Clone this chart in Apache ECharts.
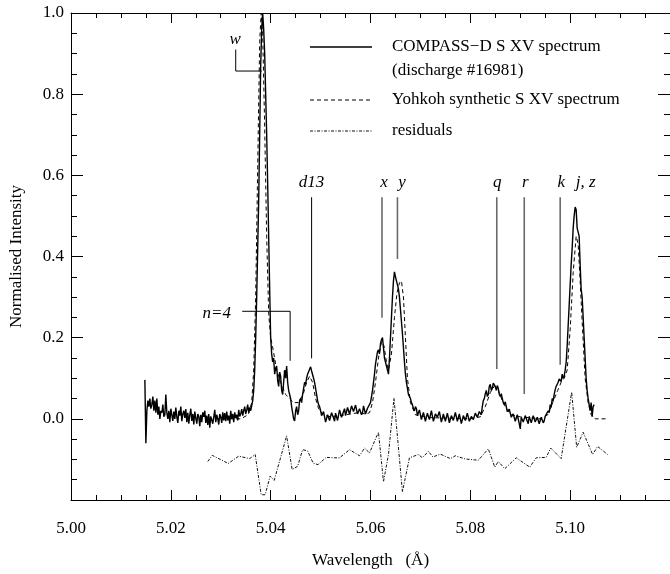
<!DOCTYPE html>
<html>
<head>
<meta charset="utf-8">
<script src="https://cdn.jsdelivr.net/npm/echarts@6/dist/echarts.min.js"></script>
<style>html,body{margin:0;padding:0;background:#fff}#chart{width:670px;height:574px}</style>
</head>
<body>
<div id="chart"></div>
<script>
// ---------- DATA ----------
// COMPASS-D measured spectrum: uniform wavelength sampling
const compassStart = 5.0148;
const compassStep = 0.0002;
const compassIntensity = [
  0.096, -0.060, 0.020, 0.045, 0.030, 0.050, 0.025, 0.035, 0.055, 0.020,
  0.045, 0.015, 0.050, 0.010, 0.030, 0.000, 0.020, 0.015, 0.035, 0.005,
  0.010, 0.060, 0.015, 0.000, 0.020, -0.008, 0.025, 0.010, -0.005, 0.018,
  0.000, 0.028, 0.005, -0.010, 0.020, 0.008, 0.030, -0.006, 0.012, 0.020,
  0.002, 0.024, -0.008, 0.015, -0.012, 0.010, 0.025, -0.005, 0.012, -0.014,
  0.018, 0.002, -0.012, 0.012, 0.006, -0.018, 0.010, -0.008, 0.016, 0.005,
  0.020, -0.010, 0.008, -0.015, 0.012, -0.022, 0.006, 0.010, -0.012, 0.004,
  0.022, -0.008, 0.010, 0.000, -0.014, 0.012, 0.004, -0.010, 0.016, -0.004,
  0.014, -0.006, 0.018, -0.004, 0.008, -0.012, 0.020, 0.000, 0.012, -0.008,
  0.016, 0.002, 0.010, -0.004, 0.022, 0.006, 0.012, 0.024, 0.008, 0.020,
  0.030, 0.012, 0.022, 0.035, 0.015, 0.028, 0.020, 0.032, 0.045, 0.070,
  0.120, 0.200, 0.300, 0.420, 0.540, 0.700, 0.870, 0.960, 1.000, 0.960,
  0.900, 0.800, 0.700, 0.580, 0.450, 0.320, 0.200, 0.160, 0.140, 0.150,
  0.110, 0.125, 0.130, 0.095, 0.080, 0.115, 0.105, 0.070, 0.060, 0.090,
  0.120, 0.100, 0.130, 0.090, 0.070, 0.060, 0.050, 0.030, 0.015, 0.000,
  -0.005, 0.020, 0.030, 0.010, 0.020, 0.045, 0.050, 0.040, 0.060, 0.075,
  0.090, 0.085, 0.100, 0.110, 0.110, 0.122, 0.128, 0.118, 0.115, 0.100,
  0.090, 0.075, 0.060, 0.045, 0.035, 0.030, 0.020, 0.008, 0.005, 0.018,
  0.020, -0.008, -0.010, 0.010, 0.012, -0.004, 0.000, 0.015, 0.018, 0.002,
  -0.006, 0.014, 0.010, -0.004, 0.000, 0.022, 0.020, 0.004, 0.005, 0.018,
  0.025, 0.008, 0.010, 0.028, 0.030, 0.012, 0.015, 0.032, 0.035, 0.018,
  0.020, 0.034, 0.030, 0.012, 0.010, 0.025, 0.028, 0.010, 0.015, 0.032,
  0.030, 0.012, 0.010, 0.026, 0.025, 0.030, 0.040, 0.055, 0.070, 0.090,
  0.110, 0.135, 0.150, 0.165, 0.170, 0.160, 0.185, 0.195, 0.200, 0.175,
  0.150, 0.140, 0.130, 0.120, 0.110, 0.150, 0.200, 0.250, 0.300, 0.340,
  0.362, 0.350, 0.340, 0.330, 0.320, 0.300, 0.270, 0.240, 0.210, 0.175,
  0.140, 0.110, 0.090, 0.075, 0.060, 0.055, 0.050, 0.040, 0.035, 0.025,
  0.020, 0.030, 0.025, 0.008, 0.005, 0.022, 0.020, -0.002, 0.000, 0.016,
  0.015, -0.006, -0.005, 0.014, 0.012, -0.002, 0.000, 0.020, 0.018, -0.006,
  -0.008, 0.012, 0.010, 0.004, 0.002, 0.018, 0.015, -0.008, -0.010, 0.012,
  0.008, -0.006, -0.004, 0.014, 0.012, -0.010, -0.012, 0.008, 0.006, -0.004,
  0.000, 0.016, 0.014, -0.006, -0.008, 0.012, 0.010, -0.012, -0.010, 0.008,
  0.006, -0.004, -0.002, 0.014, 0.012, -0.006, -0.008, 0.006, 0.004, -0.002,
  0.000, 0.014, 0.012, 0.004, 0.005, 0.018, 0.020, 0.010, 0.030, 0.045,
  0.050, 0.062, 0.070, 0.055, 0.060, 0.080, 0.085, 0.070, 0.075, 0.088,
  0.092, 0.080, 0.070, 0.082, 0.075, 0.060, 0.055, 0.062, 0.050, 0.040,
  0.035, 0.042, 0.030, 0.018, 0.015, 0.024, 0.020, 0.004, 0.000, 0.012,
  0.010, -0.006, -0.010, 0.010, 0.012, -0.012, -0.025, 0.004, 0.008, -0.008,
  -0.005, 0.008, 0.010, -0.006, -0.012, 0.006, 0.004, -0.010, -0.008, 0.008,
  0.006, -0.008, -0.010, 0.004, 0.002, -0.012, -0.015, 0.004, 0.000, -0.010,
  -0.005, 0.006, 0.010, 0.002, 0.020, 0.015, 0.035, 0.028, 0.050, 0.045,
  0.060, 0.072, 0.080, 0.076, 0.090, 0.098, 0.100, 0.092, 0.110, 0.100,
  0.105, 0.120, 0.140, 0.180, 0.230, 0.280, 0.330, 0.380, 0.420, 0.470,
  0.500, 0.522, 0.515, 0.470, 0.460, 0.450, 0.380, 0.320, 0.300, 0.250,
  0.200, 0.150, 0.100, 0.070, 0.050, 0.035, 0.020, 0.040, 0.005, 0.030,
  0.035
];

// Yohkoh synthetic spectrum
const synthWave = [
  5.0275, 5.0340, 5.0355, 5.0362, 5.0366, 5.0370, 5.0374, 5.0378, 5.0381, 5.0384,
  5.0388, 5.0392, 5.0396, 5.0400, 5.0405, 5.0412, 5.0420, 5.0430, 5.0438, 5.0445,
  5.0455, 5.0465, 5.0472, 5.0478, 5.0484, 5.0490, 5.0496, 5.0505, 5.0520, 5.0550,
  5.0575, 5.0590, 5.0598, 5.0604, 5.0610, 5.0616, 5.0622, 5.0627, 5.0632, 5.0636,
  5.0642, 5.0648, 5.0653, 5.0658, 5.0662, 5.0666, 5.0670, 5.0674, 5.0680, 5.0690,
  5.0720, 5.0800, 5.0820, 5.0830, 5.0840, 5.0848, 5.0856, 5.0864, 5.0872, 5.0882,
  5.0900, 5.0940, 5.0955, 5.0965, 5.0975, 5.0982, 5.0988, 5.0994, 5.1000, 5.1006,
  5.1012, 5.1016, 5.1020, 5.1024, 5.1030, 5.1036, 5.1042, 5.1050, 5.1075
];
const synthIntensity = [
  0.000, 0.000, 0.010, 0.040, 0.120, 0.300, 0.620, 0.930, 1.000, 0.950,
  0.720, 0.450, 0.260, 0.200, 0.170, 0.120, 0.090, 0.060, 0.050, 0.040,
  0.040, 0.060, 0.090, 0.105, 0.090, 0.050, 0.025, 0.010, 0.005, 0.010,
  0.015, 0.012, 0.015, 0.040, 0.090, 0.150, 0.190, 0.180, 0.140, 0.120,
  0.160, 0.250, 0.310, 0.335, 0.340, 0.300, 0.200, 0.100, 0.040, 0.010,
  0.003, 0.000, 0.005, 0.030, 0.065, 0.080, 0.070, 0.045, 0.025, 0.010,
  0.005, 0.000, 0.010, 0.040, 0.070, 0.090, 0.100, 0.120, 0.220, 0.360,
  0.450, 0.430, 0.340, 0.240, 0.100, 0.040, 0.010, 0.000, 0.000
];

// residuals (offset)
const residWave = [
  5.0274, 5.0283, 5.0315, 5.0336, 5.0358, 5.0369, 5.0381, 5.0389, 5.0399, 5.0407,
  5.0432, 5.0443, 5.0454, 5.0464, 5.0474, 5.0485, 5.0495, 5.0511, 5.0528, 5.0538,
  5.0558, 5.0578, 5.0588, 5.0598, 5.0616, 5.0626, 5.0636, 5.0647, 5.0664, 5.0678,
  5.0696, 5.0704, 5.0716, 5.0725, 5.0740, 5.0760, 5.0770, 5.0790, 5.0816, 5.0836,
  5.0849, 5.0856, 5.0869, 5.0892, 5.0919, 5.0932, 5.0952, 5.0961, 5.0982, 5.1003,
  5.1013, 5.1026, 5.1045, 5.1055, 5.1075
];
const residValue = [
  -0.105, -0.090, -0.110, -0.092, -0.098, -0.088, -0.187, -0.187, -0.141, -0.152,
  -0.042, -0.125, -0.117, -0.076, -0.079, -0.109, -0.113, -0.095, -0.096, -0.096,
  -0.076, -0.091, -0.072, -0.084, -0.033, -0.155, -0.088, 0.051, -0.180, -0.096,
  -0.088, -0.096, -0.080, -0.094, -0.087, -0.098, -0.091, -0.099, -0.102, -0.074,
  -0.119, -0.105, -0.123, -0.096, -0.119, -0.096, -0.095, -0.072, -0.098, 0.066,
  -0.070, -0.033, -0.088, -0.068, -0.088
];

// line identifications
const idNames = ['d13', 'x', 'y', 'q', 'r', 'k'];
const idWave = [5.0482, 5.0623, 5.0654, 5.0853, 5.0908, 5.0980];
const idTop = [0.546, 0.546, 0.546, 0.546, 0.546, 0.546];
const idBottom = [0.149, 0.249, 0.394, 0.123, 0.061, 0.133];
const labelNames = ['w', 'n=4', 'd13', 'x', 'y', 'q', 'r', 'k', 'j, z'];
const labelWave = [5.0329, 5.0292, 5.0482, 5.0627, 5.0663, 5.0854, 5.0910, 5.0982, 5.1031];
const labelLevel = [0.934, 0.259, 0.583, 0.583, 0.583, 0.583, 0.583, 0.583, 0.583];
// brackets for w and n=4
const wBracketWave = [5.0330, 5.0330, 5.0382];
const wBracketLevel = [0.910, 0.857, 0.857];
const n4BracketWave = [5.0343, 5.0439, 5.0439];
const n4BracketLevel = [0.265, 0.265, 0.143];

// axis ranges / ticks
const xMin = 5.00, xMax = 5.12, xInterval = 0.02;
const yMin = -0.2, yMax = 1.0, yInterval = 0.2;

// ---------- CHART ----------
const FONT = 'Liberation Serif';
const compassData = compassIntensity.map((v, i) => [+(compassStart + i * compassStep).toFixed(4), v]);
const synthData = synthWave.map((w, i) => [w, synthIntensity[i]]);
const residData = residWave.map((w, i) => [w, residValue[i]]);

const series = [
  {
    name: 'COMPASS−D S XV spectrum', type: 'line', data: compassData, symbol: 'none',
    lineStyle: { color: '#000', width: 1.4 }, silent: true, animation: false, z: 5
  },
  {
    name: 'Yohkoh synthetic S XV spectrum', type: 'line', data: synthData, symbol: 'none',
    lineStyle: { color: '#000', width: 1, type: [4, 3] }, silent: true, animation: false, z: 4
  },
  {
    name: 'residuals', type: 'line', data: residData, symbol: 'none',
    lineStyle: { color: '#111', width: 1, type: [3, 1.5, 1, 1.5] }, silent: true, animation: false, z: 3
  }
];

idNames.forEach((n, i) => {
  series.push({
    type: 'line', symbol: 'none', silent: true, animation: false,
    data: [[idWave[i], idTop[i]], [idWave[i], idBottom[i]]],
    lineStyle: { color: n === 'd13' ? '#000' : '#6a6a6a', width: n === 'd13' ? 1 : 1.6 }
  });
});
series.push({
  type: 'line', symbol: 'none', silent: true, animation: false,
  data: wBracketWave.map((w, i) => [w, wBracketLevel[i]]),
  lineStyle: { color: '#000', width: 1 }
});
series.push({
  type: 'line', symbol: 'none', silent: true, animation: false,
  data: n4BracketWave.map((w, i) => [w, n4BracketLevel[i]]),
  lineStyle: { color: '#000', width: 1 }
});
series.push({
  type: 'scatter', symbolSize: 0, silent: true, animation: false, z: 10,
  itemStyle: { opacity: 1 },
  data: labelNames.map((n, i) => [labelWave[i], labelLevel[i], n]),
  label: {
    show: true, position: [0, 0], align: 'center', verticalAlign: 'middle', opacity: 1,
    formatter: p => p.value[2], color: '#000', fontFamily: FONT, fontSize: 17, fontStyle: 'italic'
  }
});

const axisCommonX = {
  type: 'value', min: xMin, max: xMax, interval: xInterval,
  axisLine: { show: true, onZero: false, lineStyle: { color: '#000', width: 1 } },
  splitLine: { show: false }
};
const axisCommonY = {
  type: 'value', min: yMin, max: yMax, interval: yInterval,
  axisLine: { show: true, onZero: false, lineStyle: { color: '#000', width: 1 } },
  splitLine: { show: false }
};

const option = {
  animation: false,
  backgroundColor: '#fff',
  grid: { left: 69, right: -3, top: 13, bottom: 72, containLabel: false },
  xAxis: [
    Object.assign({}, axisCommonX, {
      position: 'bottom',
      axisTick: { show: true, inside: true, length: 10, lineStyle: { color: '#000' } },
      minorTick: { show: true, splitNumber: 4, length: 5, lineStyle: { color: '#000' } },
      axisLabel: {
        show: true, margin: 20, color: '#000', fontFamily: FONT, fontSize: 17,
        showMaxLabel: false, formatter: v => v.toFixed(2)
      },
      name: 'Wavelength   (Å)', nameLocation: 'middle', nameGap: 52,
      nameTextStyle: { color: '#000', fontFamily: FONT, fontSize: 17 }
    }),
    Object.assign({}, axisCommonX, {
      position: 'top',
      axisTick: { show: true, inside: true, length: 10, lineStyle: { color: '#000' } },
      minorTick: { show: true, splitNumber: 4, length: 5, lineStyle: { color: '#000' } },
      axisLabel: { show: false }
    })
  ],
  yAxis: [
    Object.assign({}, axisCommonY, {
      position: 'left',
      axisTick: { show: true, inside: true, length: 12, lineStyle: { color: '#000' } },
      minorTick: { show: true, splitNumber: 4, length: 6, lineStyle: { color: '#000' } },
      axisLabel: {
        show: true, margin: 7, color: '#000', fontFamily: FONT, fontSize: 17,
        showMinLabel: false, formatter: v => v.toFixed(1)
      },
      name: 'Normalised Intensity', nameLocation: 'middle', nameGap: 46, nameRotate: 90,
      nameTextStyle: { color: '#000', fontFamily: FONT, fontSize: 17 }
    }),
    Object.assign({}, axisCommonY, {
      position: 'right',
      axisTick: { show: true, inside: true, length: 12, lineStyle: { color: '#000' } },
      minorTick: { show: true, splitNumber: 4, length: 6, lineStyle: { color: '#000' } },
      axisLabel: { show: false }
    })
  ],
  graphic: [
    { type: 'line', shape: { x1: 310, y1: 47, x2: 372, y2: 47 }, style: { stroke: '#000', lineWidth: 1.3 } },
    { type: 'text', x: 392, y: 47, style: { text: 'COMPASS−D S XV spectrum', fill: '#000', font: '17px "Liberation Serif"', verticalAlign: 'middle' } },
    { type: 'text', x: 392, y: 71, style: { text: '(discharge #16981)', fill: '#000', font: '17px "Liberation Serif"', verticalAlign: 'middle' } },
    { type: 'line', shape: { x1: 310, y1: 100, x2: 372, y2: 100 }, style: { stroke: '#000', lineWidth: 1, lineDash: [4, 3] } },
    { type: 'text', x: 392, y: 100, style: { text: 'Yohkoh synthetic S XV spectrum', fill: '#000', font: '17px "Liberation Serif"', verticalAlign: 'middle' } },
    { type: 'line', shape: { x1: 310, y1: 131, x2: 372, y2: 131 }, style: { stroke: '#111', lineWidth: 1, lineDash: [3, 1.5, 1, 1.5] } },
    { type: 'text', x: 392, y: 131, style: { text: 'residuals', fill: '#000', font: '17px "Liberation Serif"', verticalAlign: 'middle' } }
  ],
  series: series
};

const chart = echarts.init(document.getElementById('chart'), null, { renderer: 'canvas' });
chart.setOption(option);
</script>
</body>
</html>
